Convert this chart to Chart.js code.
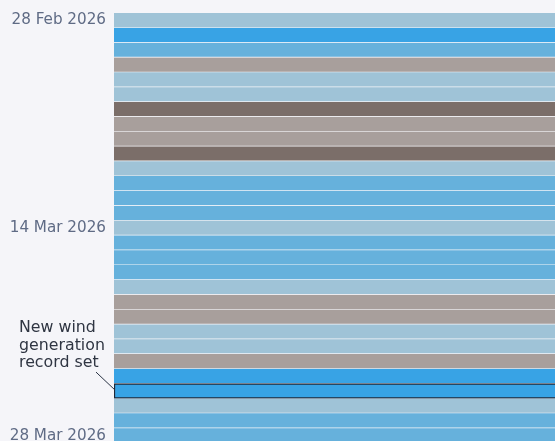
<!DOCTYPE html>
<html>
<head>
<meta charset="utf-8">
<script src="https://cdn.jsdelivr.net/npm/chart.js@4.4.1/dist/chart.umd.min.js"></script>
<style>
    html, body { margin: 0; padding: 0; background: #f5f5f9; overflow: hidden; }
    #wrap { position: relative; width: 560px; height: 444px; }
</style>
</head>
<body>
<div id="wrap"><canvas id="chart"></canvas></div>
<script>
// one row per day
var days = [
    '28 Feb 2026', '1 Mar 2026', '2 Mar 2026', '3 Mar 2026', '4 Mar 2026', '5 Mar 2026',
    '6 Mar 2026', '7 Mar 2026', '8 Mar 2026', '9 Mar 2026', '10 Mar 2026', '11 Mar 2026',
    '12 Mar 2026', '13 Mar 2026', '14 Mar 2026', '15 Mar 2026', '16 Mar 2026', '17 Mar 2026',
    '18 Mar 2026', '19 Mar 2026', '20 Mar 2026', '21 Mar 2026', '22 Mar 2026', '23 Mar 2026',
    '24 Mar 2026', '25 Mar 2026', '26 Mar 2026', '27 Mar 2026', '28 Mar 2026'
];
// wind level of each day: 0 very low .. 4 very high
var windLevel = [2, 4, 3, 1, 2, 2, 0, 1, 1, 0, 2, 3, 3, 3, 2, 3, 3, 3, 2, 1, 1, 2, 2, 1, 4, 4, 2, 3, 3];
var levelColors = ['#7b6e69', '#a89f9c', '#9fc3d7', '#66b1dc', '#38a3e5'];
var tickDays = ['28 Feb 2026', '14 Mar 2026', '28 Mar 2026'];
var recordDay = '25 Mar 2026';
var recordNote = ['New wind', 'generation', 'record set'];

var fontFamily = "'DejaVu Sans', 'Open Sans', sans-serif";
var recordIdx = days.indexOf(recordDay);

var noteLabel = {
    id: 'noteLabel',
    afterDatasetsDraw: function(chart) {
        var ctx = chart.ctx;
        var bar = chart.getDatasetMeta(0).data[recordIdx];
        var left = chart.chartArea.left;
        ctx.save();
        ctx.strokeStyle = '#2a3344';
        ctx.lineWidth = 1;
        ctx.beginPath();
        ctx.moveTo(96, bar.y - 19);
        ctx.lineTo(left, bar.y - 2);
        ctx.stroke();
        ctx.fillStyle = '#2f3542';
        ctx.font = '15.8px ' + fontFamily;
        ctx.textAlign = 'left';
        ctx.textBaseline = 'middle';
        for (var i = 0; i < recordNote.length; i++) {
            ctx.fillText(recordNote[i], 19, bar.y - 63 + i * 17.5);
        }
        ctx.restore();
    }
};

var chart = new Chart(document.getElementById('chart'), {
    type: 'bar',
    data: {
        labels: days,
        datasets: [{
            data: days.map(function() { return 1; }),
            backgroundColor: windLevel.map(function(l) { return levelColors[l]; }),
            borderColor: days.map(function(d, i) { return i === recordIdx ? '#1e2838' : 'rgba(255,255,255,0.14)'; }),
            borderWidth: days.map(function(d, i) { return i === recordIdx ? 1.5 : { top: 0, bottom: 1, left: 0, right: 0 }; }),
            borderSkipped: false,
            barPercentage: 1,
            categoryPercentage: 1
        }]
    },
    options: {
        indexAxis: 'y',
        responsive: true,
        maintainAspectRatio: false,
        animation: false,
        layout: { padding: { top: 13, right: 0, bottom: 1, left: 0 } },
        plugins: {
            legend: { display: false },
            tooltip: { enabled: false }
        },
        scales: {
            x: { display: false, min: 0, max: 1 },
            y: {
                grid: { display: false, drawTicks: false },
                border: { display: false },
                afterFit: function(scale) {
                    scale.width = 114;
                    scale.paddingTop = 0;
                    scale.paddingBottom = 0;
                },
                ticks: {
                    autoSkip: false,
                    padding: 8,
                    color: '#5f6b85',
                    font: { family: fontFamily, size: 15.2 },
                    callback: function(v, i) {
                        var d = this.getLabelForValue(v);
                        return tickDays.indexOf(d) >= 0 ? d : '';
                    }
                }
            }
        }
    },
    plugins: [noteLabel]
});
</script>
</body>
</html>
